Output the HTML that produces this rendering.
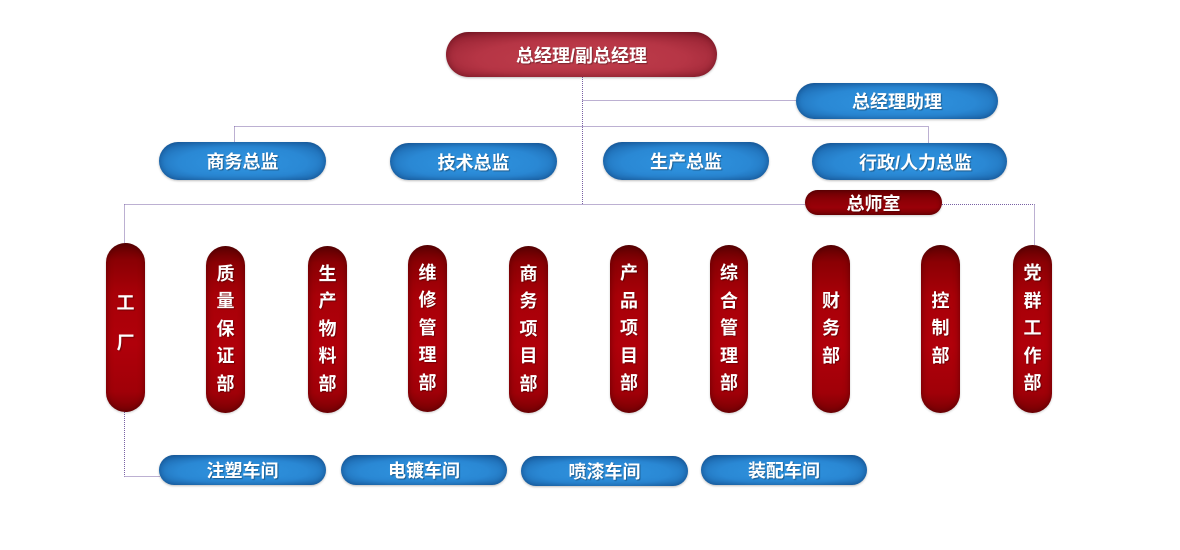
<!DOCTYPE html>
<html>
<head>
<meta charset="utf-8">
<style>
html,body{margin:0;padding:0;background:#fff;}
body{width:1180px;height:550px;position:relative;overflow:hidden;
font-family:"Liberation Sans","Noto Sans CJK SC","WenQuanYi Zen Hei",sans-serif;}
.n{position:absolute;box-sizing:border-box;color:#fff;font-weight:bold;font-size:18px;
display:flex;align-items:center;justify-content:center;text-shadow:1px 1px 1px rgba(0,0,0,0.35);white-space:nowrap;}
.blue{border-radius:20px;
background:radial-gradient(ellipse 70% 80% at 50% 55%,#2f94e0 0%,#2a88d4 55%,#1f6db4 85%,#185a98 100%);
box-shadow:inset 0 0 7px rgba(10,50,100,0.55),0 1px 2px rgba(0,0,0,0.25);}
.top{border-radius:23px;
background:radial-gradient(ellipse 70% 80% at 50% 60%,#c03e4c 0%,#b63545 55%,#9c2636 85%,#7e1a28 100%);
box-shadow:inset 0 0 8px rgba(80,10,20,0.6),0 1px 2px rgba(0,0,0,0.25);}
.red{border-radius:20px;flex-direction:column;
background:linear-gradient(to bottom,#5e0002 0%,#8a0004 10%,#a80008 30%,#b0000a 60%,#a00008 88%,#7a0004 100%);
box-shadow:inset 0 0 7px rgba(60,0,0,0.6),0 1px 2px rgba(0,0,0,0.2);}
.red span{display:block;height:27.5px;line-height:27.5px;}
.dark{border-radius:13px;
background:linear-gradient(to bottom,#6a0004 0%,#8c0006 40%,#9a0008 70%,#7a0004 100%);
box-shadow:inset 0 0 5px rgba(50,0,0,0.6),0 1px 2px rgba(0,0,0,0.2);}
svg{position:absolute;left:0;top:0;}
</style>
</head>
<body>
<svg width="1180" height="550">
<g stroke="#7860a4" stroke-width="1" stroke-dasharray="1 1" fill="none">
<line x1="582.5" y1="77" x2="582.5" y2="204.5"/>
<line x1="582.5" y1="100.5" x2="797" y2="100.5"/>
<line x1="234.5" y1="126.5" x2="928.5" y2="126.5"/>
<line x1="234.5" y1="126.5" x2="234.5" y2="143"/>
<line x1="928.5" y1="126.5" x2="928.5" y2="147"/>
<line x1="124.5" y1="204.5" x2="805" y2="204.5"/>
<line x1="124.5" y1="204.5" x2="124.5" y2="243"/>
<line x1="942" y1="204.5" x2="1034.5" y2="204.5"/>
<line x1="1034.5" y1="204.5" x2="1034.5" y2="245"/>
<line x1="124.5" y1="412" x2="124.5" y2="476.5"/>
<line x1="124.5" y1="476.5" x2="160" y2="476.5"/>
</g>
</svg>

<div class="n top" style="left:446px;top:32px;width:271px;height:45px;">总经理/副总经理</div>
<div class="n blue" style="left:796px;top:83px;width:202px;height:36px;">总经理助理</div>

<div class="n blue" style="left:159px;top:142px;width:167px;height:38px;">商务总监</div>
<div class="n blue" style="left:390px;top:143px;width:167px;height:37px;">技术总监</div>
<div class="n blue" style="left:603px;top:142px;width:166px;height:38px;">生产总监</div>
<div class="n blue" style="left:812px;top:143px;width:195px;height:37px;padding-left:12px;">行政/人力总监</div>

<div class="n dark" style="left:805px;top:190px;width:137px;height:25px;">总师室</div>

<div class="n red" style="left:106px;top:243px;width:39px;height:169px;padding-bottom:10px;"><span style="height:40px;line-height:40px;">工</span><span style="height:40px;line-height:40px;">厂</span></div>
<div class="n red" style="left:206px;top:246px;width:39px;height:167px;"><span>质</span><span>量</span><span>保</span><span>证</span><span>部</span></div>
<div class="n red" style="left:308px;top:246px;width:39px;height:167px;"><span>生</span><span>产</span><span>物</span><span>料</span><span>部</span></div>
<div class="n red" style="left:408px;top:245px;width:39px;height:167px;"><span>维</span><span>修</span><span>管</span><span>理</span><span>部</span></div>
<div class="n red" style="left:509px;top:246px;width:39px;height:167px;"><span>商</span><span>务</span><span>项</span><span>目</span><span>部</span></div>
<div class="n red" style="left:610px;top:245px;width:38px;height:168px;"><span>产</span><span>品</span><span>项</span><span>目</span><span>部</span></div>
<div class="n red" style="left:710px;top:245px;width:38px;height:168px;"><span>综</span><span>合</span><span>管</span><span>理</span><span>部</span></div>
<div class="n red" style="left:812px;top:245px;width:38px;height:168px;"><span>财</span><span>务</span><span>部</span></div>
<div class="n red" style="left:921px;top:245px;width:39px;height:168px;"><span>控</span><span>制</span><span>部</span></div>
<div class="n red" style="left:1013px;top:245px;width:39px;height:168px;"><span>党</span><span>群</span><span>工</span><span>作</span><span>部</span></div>

<div class="n blue" style="left:159px;top:455px;width:167px;height:30px;border-radius:15px;">注塑车间</div>
<div class="n blue" style="left:341px;top:455px;width:166px;height:30px;border-radius:15px;">电镀车间</div>
<div class="n blue" style="left:521px;top:456px;width:167px;height:30px;border-radius:15px;">喷漆车间</div>
<div class="n blue" style="left:701px;top:455px;width:166px;height:30px;border-radius:15px;">装配车间</div>
</body>
</html>
